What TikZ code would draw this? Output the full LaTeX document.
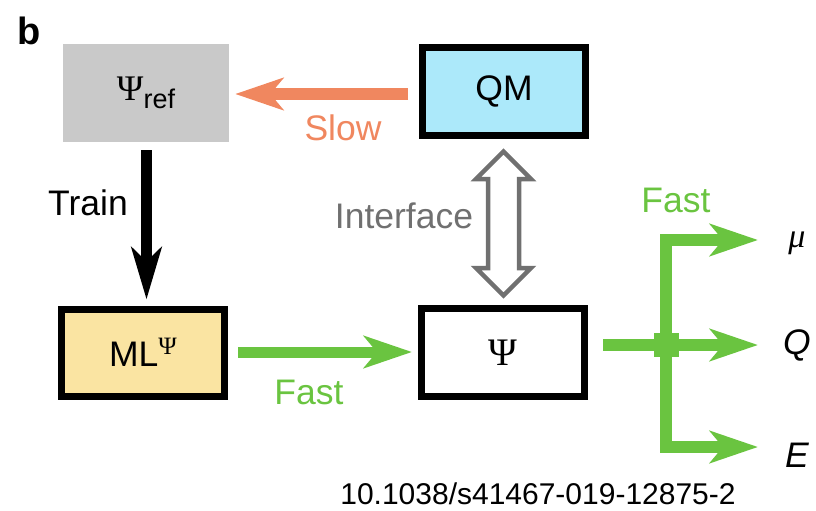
\documentclass[tikz,border=0pt]{standalone}
\usepackage{fontspec}
\setmainfont{Liberation Sans}
\newfontfamily\serifpsi{Liberation Serif}
\usetikzlibrary{arrows.meta,calc}
\definecolor{refgray}{RGB}{201,201,201}
\definecolor{qmblue}{RGB}{172,233,250}
\definecolor{mlyellow}{RGB}{250,228,162}
\definecolor{fastgreen}{RGB}{106,196,64}
\definecolor{sloworange}{RGB}{240,135,95}
\definecolor{ifgray}{RGB}{112,112,112}
\tikzset{
  box/.style={draw=black, line width=7pt, minimum width=163pt, minimum height=87pt, inner sep=0pt},
  lbl/.style={font=\fontsize{35.5}{40}\selectfont, inner sep=0pt},
  fatarrow/.style={line width=12pt, -{Stealth[length=48pt,width=32pt,inset=13pt]}},
}
\begin{document}
\begin{tikzpicture}[x=1pt,y=-1pt]
\useasboundingbox (0,0) rectangle (816,511);
% panel letter
\node[font=\fontsize{38}{42}\selectfont\bfseries, inner sep=0pt] (letter) at (29,31) {b};
% boxes
\node[fill=refgray, minimum width=166pt, minimum height=98pt, inner sep=0pt] (ref) at (146,93)
  {{\fontsize{36}{40}\selectfont\serifpsi Ψ}\raisebox{-8pt}{\fontsize{27}{30}\selectfont ref}};
\node[box, fill=qmblue] (qm) at (504,91.5) {\fontsize{35.5}{40}\selectfont QM};
\node[box, fill=mlyellow] (ml) at (143,352.5) {\fontsize{35.5}{40}\selectfont ML\raisebox{12pt}{\fontsize{25}{28}\selectfont\serifpsi Ψ}};
\node[box, fill=white, minimum height=88pt] (psi) at (503,352.5) {\fontsize{39}{42}\selectfont\serifpsi Ψ};
% slow
\draw[fatarrow, sloworange, shorten <=11pt, shorten >=6pt] (qm.west |- 0,94) -- (ref.east |- 0,94);
\node[lbl, text=sloworange] (slow) at (343,128) {Slow};
% train
\draw[line width=11pt, black, -{Stealth[length=52pt,width=30pt,inset=14pt]}, shorten <=8pt, shorten >=6pt]
  (146.5,0 |- ref.south) -- (146.5,0 |- ml.north);
\node[lbl] (train) at (88,203) {Train};
% fast bottom
\draw[fatarrow, fastgreen, line width=11pt, shorten <=10pt, shorten >=6pt] (ml.east |- 0,352) -- (psi.west |- 0,352);
\node[lbl, text=fastgreen] (fast1) at (309,392) {Fast};
% interface double arrow
\draw[ifgray, line width=4.5pt, fill=white, line join=miter]
  (503.5,151.5) -- (476,179) -- (488,179) -- (488,268) -- (476,268) -- (503.5,295.5)
  -- (531,268) -- (519,268) -- (519,179) -- (531,179) -- cycle;
\node[lbl, text=ifgray] (iface) at (404,216) {Interface};
% outputs
\coordinate (jn) at (666,345);
\node[inner sep=0pt] (mu) at (797,243) {{\serifpsi\itshape\fontsize{34}{38}\selectfont μ}};
\node[lbl] (qq) at (797,345) {\itshape Q};
\node[lbl] (ee) at (797,455) {\itshape E};
\coordinate (mut) at (758,240);
\coordinate (qt) at (758,345);
\coordinate (et) at (758,447);
\draw[fatarrow, fastgreen, line join=miter] (jn) |- (mut);
\draw[fatarrow, fastgreen, line join=miter] (jn) |- (et);
\draw[fatarrow, fastgreen, shorten <=15pt] (psi.east |- jn) -- (qt);
\fill[fastgreen] ($(jn)+(-12.5,-12)$) rectangle ($(jn)+(12.5,12)$);
\node[lbl, text=fastgreen] (fast2) at (676,200) {Fast};
% doi
\node[font=\fontsize{30}{34}\selectfont, inner sep=0pt] (doi) at (538,494) {10.1038/s41467-019-12875-2};
\end{tikzpicture}
\end{document}
